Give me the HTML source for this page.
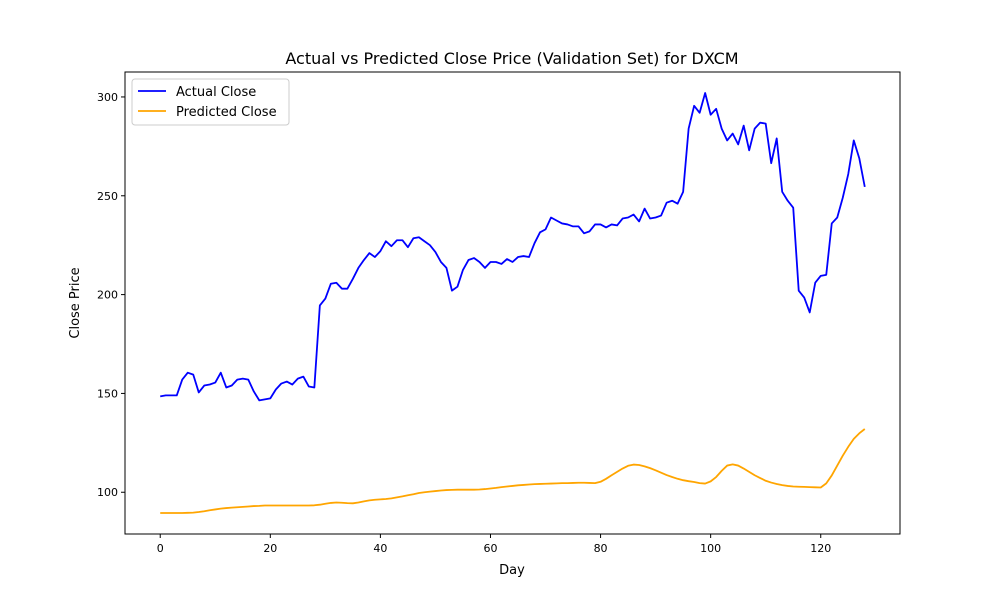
<!DOCTYPE html>
<html><head><meta charset="utf-8"><style>
body{margin:0;background:#fff;font-family:"Liberation Sans","DejaVu Sans",sans-serif}
svg text{font-family:"DejaVu Sans","Liberation Sans",sans-serif}
</style></head><body>
<svg id="chart" width="1000" height="600">
<rect width="1000" height="600" fill="#fff"/>
<text x="512" y="64" text-anchor="middle" font-size="16">Actual vs Predicted Close Price (Validation Set) for DXCM</text>
<g id="plot"></g>
<rect x="125" y="72" width="775" height="462" fill="none" stroke="#000" stroke-width="1"/>
<text x="512" y="574" text-anchor="middle" font-size="13">Day</text>
<text transform="translate(79,303) rotate(-90)" text-anchor="middle" font-size="13">Close Price</text>
<g>
<rect x="132" y="79" width="157" height="46" rx="3" fill="#fff" stroke="#ccc"/>
<line x1="138" y1="91" x2="166" y2="91" stroke="#0000ff" stroke-width="1.8"/>
<text x="176" y="96" font-size="13">Actual Close</text>
<line x1="138" y1="111" x2="166" y2="111" stroke="#ffa500" stroke-width="1.8"/>
<text x="176" y="116" font-size="13">Predicted Close</text>
</g>
</svg>
<script>
const xTicks=[0,20,40,60,80,100,120];
const yTicks=[100,150,200,250,300];
const actual=[148.5,149,149,149,157,160.5,159.5,150.5,154,154.5,155.5,160.5,153,154,157,157.5,157,151,146.5,147,147.5,152,155,156,154.5,157.5,158.5,153.5,153,194.5,198,205.5,206,203,203,208,213.5,217.5,221,219,222,227,224.5,227.5,227.5,224,228.5,229,227,225,221.5,216.5,213.5,202,204,212.5,217.5,218.5,216.5,213.5,216.5,216.5,215.5,218,216.5,219,219.5,219,226,231.5,233,239,237.5,236,235.5,234.5,234.5,231,232,235.5,235.5,234,235.5,235,238.5,239,240.5,237,243.5,238.5,239,240,246.5,247.5,246,252,284,295.5,292,302,291,294,284,278,281.5,276,285.5,273,284,287,286.5,266.5,279,252,247.5,244,202,198.5,191,206,209.5,210,236,239,249,261,278,269,254.5];
const predicted=[89.5,89.5,89.5,89.5,89.5,89.6,89.7,90,90.4,90.9,91.3,91.7,92,92.2,92.4,92.6,92.8,93,93.1,93.3,93.3,93.3,93.3,93.3,93.3,93.3,93.3,93.3,93.4,93.7,94.2,94.6,94.8,94.7,94.5,94.4,94.8,95.4,95.9,96.2,96.4,96.6,96.9,97.4,97.9,98.5,99,99.6,100,100.3,100.6,100.9,101.1,101.2,101.3,101.3,101.3,101.3,101.4,101.6,101.9,102.2,102.6,102.9,103.2,103.5,103.7,103.9,104.1,104.2,104.3,104.4,104.5,104.6,104.6,104.7,104.8,104.8,104.7,104.6,105.3,106.8,108.6,110.3,112,113.4,114,113.8,113.1,112.2,111.1,109.9,108.7,107.7,106.8,106.1,105.6,105.2,104.6,104.4,105.5,107.7,110.8,113.5,114.1,113.5,112,110.3,108.6,107.2,105.8,104.9,104.2,103.6,103.2,102.9,102.8,102.7,102.6,102.5,102.4,104.5,108.5,113.5,118.5,123,127,129.8,132];
const L=125,R=900,T=72,B=534;
const n=actual.length;
const xmin=-0.05*(n-1),xmax=(n-1)*1.05;
const all=actual.concat(predicted);
const dmin=Math.min(...all),dmax=Math.max(...all),pad=(dmax-dmin)*0.05;
const ymin=dmin-pad,ymax=dmax+pad;
const xs=v=>L+(v-xmin)/(xmax-xmin)*(R-L);
const ys=v=>B-(v-ymin)/(ymax-ymin)*(B-T);
const NS='http://www.w3.org/2000/svg';
const g=document.getElementById('plot');
function mk(t,a){const e=document.createElementNS(NS,t);for(const k in a)e.setAttribute(k,a[k]);g.appendChild(e);return e;}
xTicks.forEach(v=>{const x=xs(v);
const l=mk('line',{x1:x,y1:B,x2:x,y2:B+4,stroke:'#000'});


const t=mk('text',{x:x,y:B+18,'text-anchor':'middle','font-size':'11'});t.textContent=v;

});
yTicks.forEach(v=>{const y=ys(v);
const l=mk('line',{x1:L-4,y1:y,x2:L,y2:y,stroke:'#000'});


const t=mk('text',{x:L-7,y:y+4,'text-anchor':'end','font-size':'11'});t.textContent=v;

});
function line(arr,c,name){const p=mk('polyline',{points:arr.map((v,i)=>xs(i)+','+ys(v)).join(' '),fill:'none',stroke:c,'stroke-width':'1.8','stroke-linejoin':'round'});

}
line(actual,'#0000ff','actual-close-line');
line(predicted,'#ffa500','predicted-close-line');
</script>
</body></html>
